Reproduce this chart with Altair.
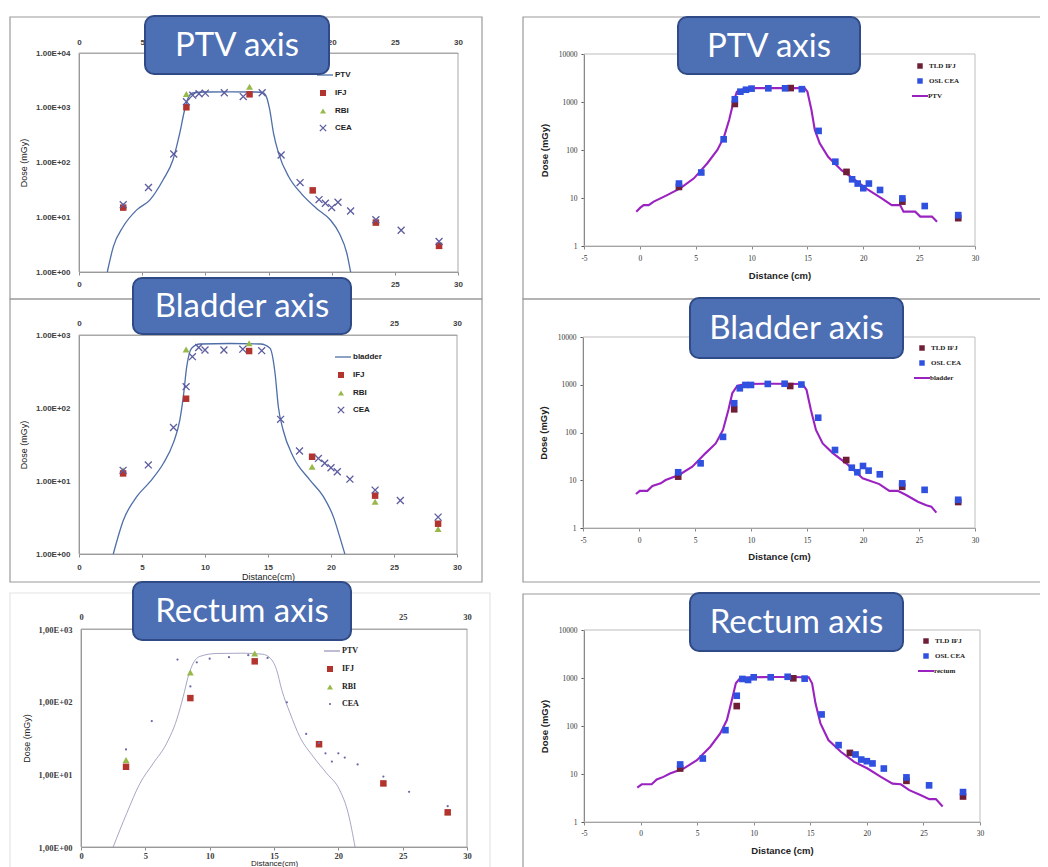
import altair as alt
import pandas as pd

# ------------------------------------------------------------------ data
DET_X = [3.5, 5.5, 7.5, 8.5, 9.0, 9.5, 10.0, 11.5, 13.0, 14.5, 16.0, 17.5,
         19.0, 19.5, 20.0, 20.5, 21.5, 23.5, 25.5, 28.5]
TLD_X = [3.5, 8.5, 13.5, 18.5, 23.5, 28.5]
X_TICKS_L = [0, 5, 10, 15, 20, 25, 30]
X_TICKS_R = [-5, 0, 5, 10, 15, 20, 25, 30]
Y_TICKS_4 = [1, 10, 100, 1000, 10000]
Y_TICKS_3 = [1, 10, 100, 1000]

# left column: PTV axis
L1_PTV_X = [2.24, 2.72, 3.49, 4.55, 5.6, 6.65, 7.44, 7.97, 8.36, 8.63, 9.0, 10.0,
            12.0, 14.0, 14.6, 14.87, 15.1, 15.4, 15.8, 16.6, 17.6, 18.8, 19.9,
            20.6, 21.2, 21.5]
L1_PTV_Y = [1.0, 2.9, 6.7, 13.5, 20.6, 48, 112, 340, 910, 1490, 1860, 1940,
            1950, 1940, 1860, 1510, 910, 340, 147, 55, 27, 14.5, 8.9, 5.1, 2.2, 1.0]
L1_IFJ = [15, 1020, 1760, 31, 8, 3.0]
L1_RBI = [16, 1780, 2430, 31, 8, 3.0]
L1_CEA = [17, 35, 143, 1290, 1700, 1800, 1850, 1880, 1600, 1880, 137, 43,
          21, 18, 15, 18.8, 13, 9, 5.8, 3.6]

# left column: bladder axis
L2_BLADDER_X = [2.72, 3.52, 4.58, 5.64, 6.7, 7.48, 8.0, 8.28, 8.55, 8.94, 9.6, 12.0,
                14.4, 15.16, 15.56, 15.82, 16.2, 17.0, 18.33, 19.4, 20.2, 20.7, 21.1]
L2_BLADDER_Y = [1.0, 2.9, 6.1, 9.8, 17.5, 33, 68, 143, 368, 660, 753, 765,
                753, 660, 299, 104, 50, 21.5, 10.3, 6.1, 3.2, 1.7, 1.0]
L2_IFJ = [12.7, 134, 603, 21.5, 6.3, 2.6]
L2_RBI = [14, 635, 770, 15.7, 5.2, 2.2]
L2_CEA = [14, 16.6, 54, 196, 505, 675, 623, 623, 640, 610, 70, 25.8,
          20.4, 17.5, 15.2, 13.4, 10.6, 7.5, 5.4, 3.2]

# left column: rectum axis
L3_PTV_X = [2.5, 3.55, 4.58, 5.62, 6.66, 7.43, 7.95, 8.34, 8.73, 9.25, 10.5, 12.5,
            14.1, 14.69, 15.2, 15.6, 16.24, 17.0, 18.05, 19.1, 20.1, 20.77, 21.3]
L3_PTV_Y = [1.0, 2.9, 7.5, 14.2, 26.8, 56, 118, 224, 340, 420, 460, 465,
            450, 400, 275, 146, 70, 33, 17.5, 10.3, 6.1, 2.9, 1.0]
L3_IFJ = [12.7, 112, 359, 26, 7.5, 3.0]
L3_RBI = [15.8, 252, 460, 26, 7.6, 3.0]
L3_CEA_X = [3.5, 5.5, 7.5, 8.5, 9.0, 10.0, 11.5, 13.0, 14.5, 16.0, 17.5, 18.5,
            19.0, 19.5, 20.0, 20.5, 21.5, 23.5, 25.5, 28.5]
L3_CEA = [22, 54, 380, 162, 348, 390, 410, 437, 400, 98, 36, 27,
          19.5, 15, 19.5, 17, 13.7, 9.3, 5.75, 3.65]

# right column: PTV axis
R1_PTV_X = [-0.32, 0.04, 0.34, 0.79, 1.24, 1.84, 2.44, 3.64, 4.84, 6.04, 6.94, 7.54,
            7.99, 8.35, 8.68, 9.2, 10.25, 12.5, 14.75, 15.0, 15.36, 15.66, 16.1,
            16.85, 18.05, 19.25, 20.45, 21.65, 22.55, 23.3, 23.6, 24.65, 25.1,
            26.15, 26.6]
R1_PTV_Y = [5.2, 6.3, 7.1, 7.1, 8.4, 9.8, 11.5, 16, 25.7, 53, 100, 190,
            420, 940, 1640, 1820, 1950, 1950, 1950, 1640, 680, 262, 138,
            72, 38, 24, 14.7, 9.8, 7.1, 7.1, 5.2, 5.2, 4.1, 4.1, 3.2]
R1_TLD = [17, 910, 1950, 35, 8.4, 3.8]
R1_OSL = [20, 34, 167, 1140, 1640, 1800, 1900, 1930, 1930, 1850, 250, 57,
          24.5, 20, 16, 20, 14.7, 9.8, 6.8, 4.4]

# right column: bladder axis
R2_BLADDER_X = [-0.27, 0.07, 0.75, 1.2, 1.94, 2.38, 3.57, 4.76, 5.95, 6.85, 7.5, 7.98,
                8.33, 8.78, 9.5, 12.0, 14.6, 14.96, 15.35, 15.8, 16.4, 17.3, 18.5,
                19.97, 21.46, 22.35, 23.1, 23.85, 24.9, 25.65, 26.1, 26.55]
R2_BLADDER_Y = [5.15, 6.0, 6.0, 7.6, 8.6, 10.1, 12.9, 19.2, 37, 59, 113, 296,
                663, 960, 1040, 1050, 1040, 777, 296, 113, 59, 37, 22.6,
                11, 8.3, 6.0, 6.0, 4.9, 3.55, 3.0, 2.8, 2.1]
R2_TLD = [11.9, 306, 942, 26.5, 7.3, 3.5]
R2_OSL = [14.7, 22.6, 81, 410, 843, 990, 990, 1040, 1050, 1010, 204, 43,
          18.3, 14.7, 19.9, 15.9, 13.3, 8.6, 6.3, 3.9]

# right column: rectum axis
R3_RECTUM_X = [-0.29, 0.1, 0.98, 1.43, 2.02, 2.6, 3.8, 4.98, 6.16, 7.04, 7.63, 8.07,
               8.42, 8.8, 9.7, 12.0, 14.86, 15.16, 15.46, 15.9, 16.6, 17.7, 18.88,
               20.06, 21.24, 22.27, 23.0, 23.75, 24.78, 25.52, 26.1, 26.7]
R3_RECTUM_Y = [5.2, 6.1, 6.1, 7.7, 8.7, 10.2, 13, 19.4, 37, 70, 133, 347,
               775, 1000, 1040, 1050, 1040, 775, 297, 113, 51, 29, 17.9,
               13, 8.7, 6.3, 6.1, 4.6, 3.6, 3.0, 3.0, 2.1]
R3_TLD = [13, 260, 985, 27.5, 7.2, 3.4]
R3_OSL = [15.8, 21, 82, 427, 955, 910, 1035, 1035, 1060, 970, 174, 40,
          25.5, 20, 18.5, 16.6, 13, 8.5, 5.8, 4.2]

# ------------------------------------------------------------------ layout / style
M = 8                 # page margin
W, H = 1032, 859      # drawing area

P_L1 = dict(x0=79, x1=458, yb=272, yt=53, xdom=[0, 30], ydom=[1, 10000])
P_L2 = dict(x0=79, x1=457, yb=554, yt=335, xdom=[0, 30], ydom=[1, 1000])
P_L3 = dict(x0=81, x1=467, yb=847, yt=629, xdom=[0, 30], ydom=[1, 1000])
P_R1 = dict(x0=584, x1=975, yb=246, yt=54, xdom=[-5, 30], ydom=[1, 10000])
P_R2 = dict(x0=583, x1=975, yb=528, yt=337, xdom=[-5, 30], ydom=[1, 10000])
P_R3 = dict(x0=584, x1=980, yb=822, yt=630, xdom=[-5, 30], ydom=[1, 10000])

LINE_L = '#4e6ea8'
IFJ_C = '#b3342f'
RBI_C = '#98b94a'
CEA_C = '#5c5ca0'
TLD_C = '#6e1f35'
OSL_C = '#3050e0'
LINE_R = '#9a22c0'
BOX_FILL = '#4d6fb4'
BOX_STROKE = '#2f4a86'
FRAME_C = '#9a9a9a'

SANS = 'Liberation Sans'
SERIF = 'Liberation Serif'
CROSS = 'M-1,-1L1,1M-1,1L1,-1'

ONE = pd.DataFrame({'d': [0]})


def xsc(p):
    return alt.Scale(domain=p['xdom'], range=[p['x0'] - M, p['x1'] - M], nice=False, zero=False)


def ysc(p):
    return alt.Scale(type='log', domain=p['ydom'], range=[p['yb'] - M, p['yt'] - M], nice=False)


def xy(p, xaxis=None, yaxis=None):
    return dict(x=alt.X('x:Q', scale=xsc(p), axis=xaxis), y=alt.Y('y:Q', scale=ysc(p), axis=yaxis))


def df(xs, ys):
    return pd.DataFrame({'x': xs, 'y': ys})


def line(p, xs, ys, color, width, interp):
    return alt.Chart(df(xs, ys)).mark_line(color=color, strokeWidth=width,
                                           interpolate=interp).encode(**xy(p))


def pts(p, xs, ys, **mk):
    return alt.Chart(df(xs, ys)).mark_point(opacity=1, **mk).encode(**xy(p))


def border(p, color):
    d = pd.DataFrame({'x': [p['xdom'][0]], 'x2': [p['xdom'][1]],
                      'y': [p['ydom'][0]], 'y2': [p['ydom'][1]]})
    return alt.Chart(d).mark_rect(fillOpacity=0, stroke=color, strokeWidth=1).encode(
        x2='x2:Q', y2='y2:Q', **xy(p))


def axis_holder(p, xaxis=None, yaxis=None):
    d = pd.DataFrame({'x': p['xdom'], 'y': p['ydom']})
    return alt.Chart(d).mark_point(opacity=0).encode(**xy(p, xaxis, yaxis))


def frame(x0, y0, x1, y1, color=FRAME_C, width=1.2):
    return alt.Chart(ONE).mark_rect(fillOpacity=0, stroke=color, strokeWidth=width).encode(
        x=alt.value(x0 - M), x2=alt.value(x1 - M), y=alt.value(y0 - M), y2=alt.value(y1 - M))


def title_box(x0, y0, x1, y1, text):
    r = alt.Chart(ONE).mark_rect(fill=BOX_FILL, stroke=BOX_STROKE, strokeWidth=2,
                                 cornerRadius=9).encode(
        x=alt.value(x0 - M), x2=alt.value(x1 - M), y=alt.value(y0 - M), y2=alt.value(y1 - M))
    t = alt.Chart(ONE).mark_text(text=text, font='Lato', fontSize=33, color='white',
                                 align='center', baseline='middle').encode(
        x=alt.value((x0 + x1) / 2 - M), y=alt.value((y0 + y1) / 2 - M + 1))
    return [r, t]


def leg_sym(x, y, **mk):
    return alt.Chart(ONE).mark_point(opacity=1, **mk).encode(x=alt.value(x - M), y=alt.value(y - M))


def leg_line(x0, x1, y, color, width):
    return alt.Chart(ONE).mark_rule(color=color, strokeWidth=width).encode(
        x=alt.value(x0 - M), x2=alt.value(x1 - M), y=alt.value(y - M))


def label(x, y, text, size, font, weight='normal', color='#222'):
    return alt.Chart(ONE).mark_text(text=text, fontSize=size, font=font, fontWeight=weight,
                                    color=color, align='left', baseline='middle').encode(
        x=alt.value(x - M), y=alt.value(y - M))


COMMON = dict(grid=False, labelOverlap=False, labelFlush=False, labelBound=False)


def label_expr(hidden):
    if not hidden:
        return "'' + datum.value"
    return "indexof(%s, datum.value) >= 0 ? '' : '' + datum.value" % str(list(hidden))


def x_axis(p, side, values, pad, tick, font, size, weight, color, dom_color,
           title=None, tpad=0, tsize=9, tweight='normal', tfont=SANS, hidden=()):
    off = (p['yb'] - M) - H if side == 'bottom' else -(p['yt'] - M)
    kw = dict(orient=side, offset=off, values=values, labelExpr=label_expr(hidden),
              labelPadding=pad, labelFont=font, labelFontSize=size, labelFontWeight=weight,
              labelColor=color, domainColor=dom_color, domainWidth=1, title=title, **COMMON)
    if tick > 0:
        kw.update(ticks=True, tickSize=tick, tickColor=dom_color)
    else:
        kw.update(ticks=False)
    if title:
        kw.update(titlePadding=tpad, titleFont=tfont, titleFontSize=tsize,
                  titleFontWeight=tweight, titleColor='#222')
    return alt.Axis(**kw)


def y_axis(p, values, expr, pad, tick, font, size, weight, color, dom_color,
           title, tpad, tsize, tweight):
    kw = dict(orient='left', offset=-(p['x0'] - M), values=values, labelExpr=expr,
              labelPadding=pad, labelFont=font, labelFontSize=size, labelFontWeight=weight,
              labelColor=color, domainColor=dom_color, domainWidth=1, title=title,
              titlePadding=tpad, titleFont=SANS, titleFontSize=tsize,
              titleFontWeight=tweight, titleColor='#222', **COMMON)
    if tick > 0:
        kw.update(ticks=True, tickSize=tick, tickColor=dom_color)
    else:
        kw.update(ticks=False)
    return alt.Axis(**kw)


EXPR_DOT = "'1.00E+0' + format(log(datum.value) / LN10, '.0f')"
EXPR_COMMA = "'1,00E+0' + format(log(datum.value) / LN10, '.0f')"


# ------------------------------------------------------------------ left panels
def left_panel(p, frame_box, tbox, ttext, yticks, expr, lab_font, lab_size,
               top_pad, bot_pad, line_x, line_y, line_w, line_c, line_interp,
               ifj, rbi, cea_x, cea_y, cea_mark, legend, xtitle, xtpad, xtsize,
               hide_top, hide_bottom):
    xb = x_axis(p, 'bottom', X_TICKS_L, bot_pad, 3, lab_font, lab_size, 'bold', '#404040',
                '#8c8c8c', title=xtitle, tpad=xtpad, tsize=xtsize, hidden=hide_bottom)
    xt = x_axis(p, 'top', X_TICKS_L, top_pad, 0, lab_font, lab_size, 'bold', '#404040',
                '#aaaaaa', hidden=hide_top)
    ya = y_axis(p, yticks, expr, 9, 0, lab_font, lab_size, 'bold', '#404040', '#8c8c8c',
                'Dose (mGy)', 7, 9, 'normal')
    layers = [frame(*frame_box[:4], color=frame_box[4]),
              border(p, '#a8a8a8'),
              axis_holder(p, xaxis=xb, yaxis=ya),
              axis_holder(p, xaxis=xt),
              line(p, line_x, line_y, line_c, line_w, line_interp),
              pts(p, TLD_X, rbi, shape='triangle-up', filled=True, size=48, color=RBI_C),
              pts(p, TLD_X, ifj, shape='square', filled=True, size=42, color=IFJ_C),
              pts(p, cea_x, cea_y, **cea_mark)]
    lx, ly0, name, text_font = legend
    layers += [leg_line(lx - 14, lx + 2, ly0, line_c, max(line_w, 1.2)),
               label(lx + 4, ly0, name, 8, text_font, 'bold'),
               leg_sym(lx - 8, ly0 + 18, shape='square', filled=True, size=36, color=IFJ_C),
               label(lx + 4, ly0 + 18, 'IFJ', 8, text_font, 'bold'),
               leg_sym(lx - 8, ly0 + 36, shape='triangle-up', filled=True, size=36, color=RBI_C),
               label(lx + 4, ly0 + 36, 'RBI', 8, text_font, 'bold'),
               leg_sym(lx - 8, ly0 + 53, **dict(cea_mark, size=min(cea_mark['size'], 40))),
               label(lx + 4, ly0 + 53, 'CEA', 8, text_font, 'bold')]
    layers += title_box(*tbox, ttext)
    return alt.layer(*layers).resolve_axis(x='independent', y='independent')


cea_x_mark = dict(shape=CROSS, filled=False, size=48, color=CEA_C, strokeWidth=1.3)
cea_dot_mark = dict(shape='circle', filled=True, size=5, color='#6a6aa8')

L1 = left_panel(P_L1, (10, 17, 482, 299, FRAME_C), (145, 16, 329, 74), 'PTV axis',
                Y_TICKS_4, EXPR_DOT, SANS, 8, 7, 5,
                L1_PTV_X, L1_PTV_Y, 1.3, LINE_L, 'monotone',
                L1_IFJ, L1_RBI, DET_X, L1_CEA, cea_x_mark, (331, 75, 'PTV', SANS),
                None, 0, 9, [10, 15], [5, 10, 15, 20])
L2 = left_panel(P_L2, (10, 299, 482, 582, FRAME_C), (133, 278, 351, 334), 'Bladder axis',
                Y_TICKS_3, EXPR_DOT, SANS, 8, 8, 6,
                L2_BLADDER_X, L2_BLADDER_Y, 1.3, LINE_L, 'monotone',
                L2_IFJ, L2_RBI, DET_X, L2_CEA, cea_x_mark, (349, 357, 'bladder', SANS),
                'Distance(cm)', 1, 9, [5, 10, 15, 20], [])
L3 = left_panel(P_L3, (10, 593, 490, 880, '#e4e4e4'), (133, 582, 351, 640), 'Rectum axis',
                Y_TICKS_3, EXPR_COMMA, SERIF, 8.5, 8, 1,
                L3_PTV_X, L3_PTV_Y, 0.8, '#8f8fb4', 'monotone',
                L3_IFJ, L3_RBI, L3_CEA_X, L3_CEA, cea_dot_mark, (338, 651, 'PTV', SERIF),
                'Distance(cm)', 0, 8, [5, 10, 15, 20], [])


# ------------------------------------------------------------------ right panels
def right_panel(p, frame_box, tbox, ttext, pad_x, tpad_x, line_x, line_y, line_name,
                tld, osl, legend):
    xb = x_axis(p, 'bottom', X_TICKS_R, pad_x, 3, SERIF, 7.5, 'normal', '#333',
                '#8a8a8a', title='Distance (cm)', tpad=tpad_x, tsize=9.5, tweight='bold')
    ya = y_axis(p, Y_TICKS_4, "'' + datum.value", 4, 3, SERIF, 7.5, 'normal', '#333',
                '#555555', 'Dose (mGy)', 9, 9.5, 'bold')
    layers = [frame(*frame_box),
              border(p, '#bdbdbd'),
              axis_holder(p, xaxis=xb, yaxis=ya),
              line(p, line_x, line_y, LINE_R, 2.1, 'linear'),
              pts(p, TLD_X, tld, shape='square', filled=True, size=44, color=TLD_C),
              pts(p, DET_X, osl, shape='square', filled=True, size=44, color=OSL_C)]
    lx, ly = legend
    layers += [leg_sym(lx, ly, shape='square', filled=True, size=30, color=TLD_C),
               label(lx + 9, ly, 'TLD IFJ', 7, SERIF, 'bold'),
               leg_sym(lx, ly + 15, shape='square', filled=True, size=30, color=OSL_C),
               label(lx + 9, ly + 15, 'OSL CEA', 7, SERIF, 'bold'),
               leg_line(lx - 8, lx + 8, ly + 30, LINE_R, 2),
               label(lx + 8, ly + 30, line_name, 7, SERIF, 'bold')]
    layers += title_box(*tbox, ttext)
    return alt.layer(*layers).resolve_axis(x='independent', y='independent')


R1 = right_panel(P_R1, (523, 17, 1060, 299), (678, 17, 860, 74), 'PTV axis', 5, 9,
                 R1_PTV_X, R1_PTV_Y, 'PTV', R1_TLD, R1_OSL, (920, 66))
R2 = right_panel(P_R2, (523, 299, 1060, 582), (690, 298, 903, 358), 'Bladder axis', 5, 8,
                 R2_BLADDER_X, R2_BLADDER_Y, 'bladder', R2_TLD, R2_OSL, (922, 348))
R3 = right_panel(P_R3, (523, 594, 1060, 880), (690, 593, 903, 651), 'Rectum axis', 4, 9,
                 R3_RECTUM_X, R3_RECTUM_Y, 'rectum', R3_TLD, R3_OSL, (926, 641))

chart = alt.layer(L1, R1, L2, R2, L3, R3).resolve_scale(
    x='independent', y='independent').resolve_axis(
    x='independent', y='independent').properties(
    width=W, height=H, autosize=alt.AutoSizeParams(type='none'), padding=0,
    background='white').configure_view(stroke=None)

chart.save("out.html", embed_options={"renderer": "svg", "actions": False})
